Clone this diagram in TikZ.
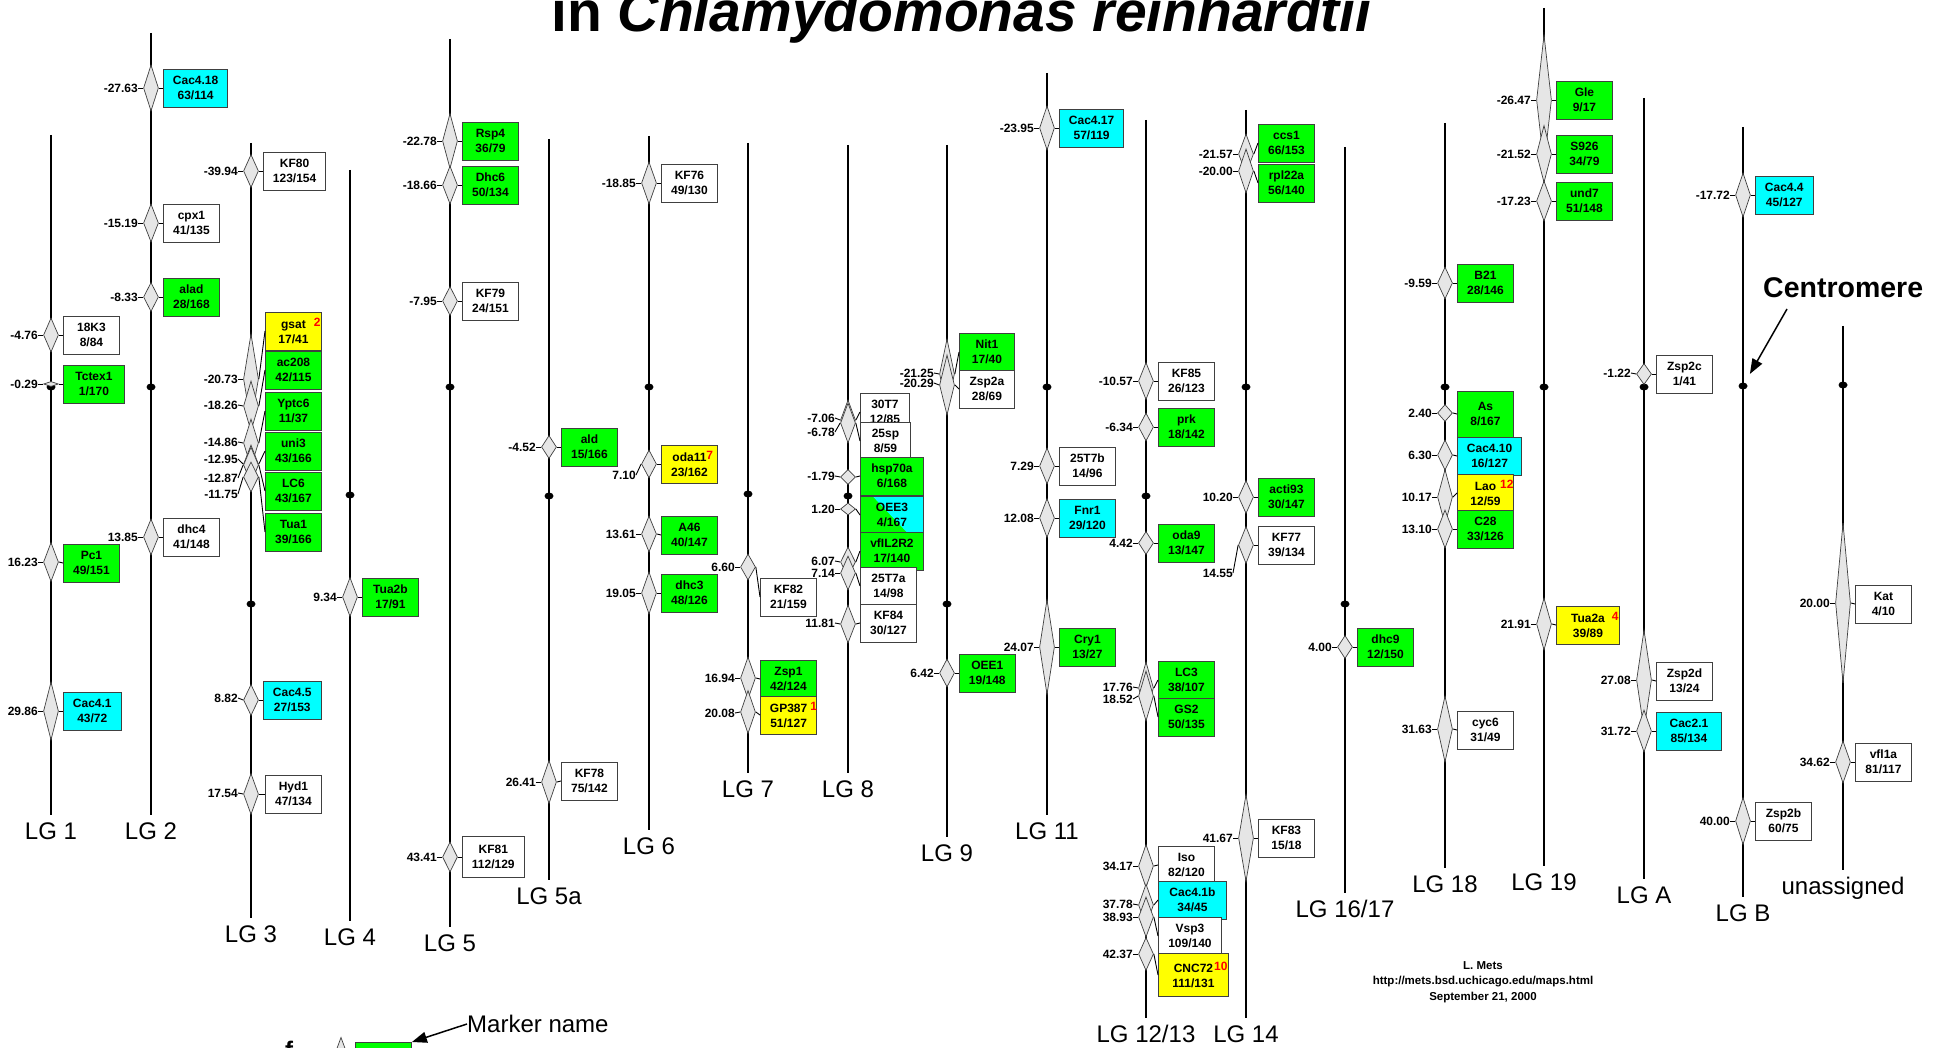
\documentclass[tikz,border=0pt]{standalone}
\usepackage{fontspec}
\setmainfont{Liberation Sans}
\usetikzlibrary{positioning, arrows.meta, shapes.geometric}
\definecolor{mkgreen}{HTML}{00FF00}
\definecolor{mkcyan}{HTML}{00FFFF}
\definecolor{mkyellow}{HTML}{FFFF00}
\definecolor{diafill}{HTML}{E6E6E6}
\definecolor{edge}{HTML}{404040}
\newcommand{\mkfont}{\fontsize{12}{15.5}\selectfont\bfseries}
\newcommand{\rednote}[2]{\rlap{\hspace{#1pt}\raisebox{2pt}{\textcolor{red}{#2}}}}
% linkage group: name, x, top, bottom, centromere, label
\newcommand{\lgline}[6]{%
  \draw[chrom] (#2,#3) coordinate (#1t) -- (#2,#4) coordinate (#1e);
  \node[cdot] (#1c) at (#2,#5) {};
  \node[lglab] (#1n) at (#2,#4+24) {#6};
}
% marker: name, x, y, spread, distance, distance y, box style, box y, box text
\newcommand{\mrk}[9]{%
  \node[dia, minimum height=#4pt] (#1d) at (#2,#3) {};
  \node[cmlab] (#1l) at (#2-13,#6) {#5};
  \node[#7] (#1b) at (#2+12,#8) {#9};
  \draw[tick] (#1l.east) -- (#1d.west);
  \draw[tick] (#1d.east) -- (#1b.west);
}
\tikzset{
  chrom/.style={line width=1.8pt, draw=black},
  cdot/.style={ellipse, fill=black, inner sep=0pt, minimum width=9pt, minimum height=7pt},
  dia/.style={diamond, draw=edge, fill=diafill, line width=0.7pt, inner sep=0pt, minimum width=15pt},
  cmlab/.style={font=\mkfont, inner sep=0pt, anchor=east},
  tick/.style={draw=black, line width=0.9pt},
  mbox/.style={draw=edge, line width=0.9pt, align=center, font=\mkfont, minimum width=56pt,
               minimum height=38pt, inner xsep=9.5pt, inner ysep=0pt, anchor=west},
  wbox/.style={mbox, fill=white},
  gbox/.style={mbox, fill=mkgreen},
  cbox/.style={mbox, fill=mkcyan},
  ybox/.style={mbox, fill=mkyellow},
  sbox/.style={mbox, fill=mkgreen, path picture={
      \fill[mkcyan] ([xshift=12pt]path picture bounding box.north west) -- (path picture bounding box.north east)
        -- (path picture bounding box.south east) -- ([xshift=-15pt]path picture bounding box.south east) -- cycle;}},
  lglab/.style={font=\fontsize{24}{24}\selectfont, inner sep=0pt, anchor=base},
  pointer/.style={-{Triangle[length=15pt, width=11pt]}, line width=1.5pt},
}
\begin{document}
\begin{tikzpicture}[x=1pt, y=-1pt]
  \useasboundingbox (0,0) rectangle (1944,1048);
  \fill[white] (0,0) rectangle (1944,1048);
  \node[font=\fontsize{57}{60}\selectfont\bfseries, anchor=base, inner sep=0pt] (title) at (962,32)
    {in \textit{Chlamydomonas reinhardtii}};

  \lgline{lgi}{51}{135}{815}{387}{LG 1}
  \lgline{lgii}{151}{33}{815}{387}{LG 2}
  \lgline{lgiii}{251}{143}{918}{604}{LG 3}
  \lgline{lgiv}{350}{170}{921}{495}{LG 4}
  \lgline{lgv}{450}{39}{927}{387}{LG 5}
  \lgline{lgva}{549}{139}{880}{496}{LG 5a}
  \lgline{lgvi}{649}{136}{830}{387}{LG 6}
  \lgline{lgvii}{748}{143}{773}{494}{LG 7}
  \lgline{lgviii}{848}{145}{773}{496}{LG 8}
  \lgline{lgix}{947}{145}{837}{604}{LG 9}
  \lgline{lgxi}{1047}{73}{815}{387}{LG 11}
  \lgline{lgxii}{1146}{120}{1018}{496}{LG 12/13}
  \lgline{lgxiv}{1246}{110}{1018}{387}{LG 14}
  \lgline{lgxvi}{1345}{147}{893}{604}{LG 16/17}
  \lgline{lgxviii}{1445}{123}{868}{387}{LG 18}
  \lgline{lgxix}{1544}{8}{866}{387}{LG 19}
  \lgline{lgA}{1644}{98}{879}{387}{LG A}
  \lgline{lgB}{1743}{127}{897}{386}{LG B}
  \lgline{lgU}{1843}{326}{870}{385}{unassigned}

  % LG 1
  \mrk{kxviii}{51}{335}{34}{-4.76}{335}{wbox}{335}{18K3\\8/84}
  \mrk{tctex}{51}{384}{5}{-0.29}{384}{gbox, minimum width=61pt}{384}{Tctex1\\1/170}
  \mrk{pci}{51}{562}{39}{16.23}{562}{gbox}{563}{Pc1\\49/151}
  \mrk{cacia}{51}{711}{58}{29.86}{711}{cbox}{711}{Cac4.1\\43/72}
  % LG 2
  \mrk{cacxviii}{151}{88}{46}{-27.63}{88}{cbox}{88}{Cac4.18\\63/114}
  \mrk{cpx}{151}{223}{38}{-15.19}{223}{wbox}{223}{cpx1\\41/135}
  \mrk{alad}{151}{297}{29}{-8.33}{297}{gbox}{297}{alad\\28/168}
  \mrk{dhciv}{151}{537}{36}{13.85}{537}{wbox}{537}{dhc4\\41/148}
  % LG 3
  \mrk{kflxxx}{251}{171}{33}{-39.94}{171}{wbox}{171}{KF80\\123/154}
  \mrk{gsat}{251}{379}{90}{-20.73}{379}{ybox, xshift=2pt}{331}{gsat\rednote{8}{2}\\17/41}
  \mrk{acc}{251}{406}{50}{-18.26}{405}{gbox, xshift=2pt}{370}{ac208\\42/115}
  \mrk{yptc}{251}{443}{48}{-14.86}{442}{gbox, xshift=2pt}{411}{Yptc6\\11/37}
  \mrk{uni}{251}{464}{38}{-12.95}{459}{gbox, xshift=2pt}{451}{uni3\\43/166}
  \mrk{lcvi}{251}{465}{36}{-12.87}{478}{gbox, xshift=2pt}{491}{LC6\\43/167}
  \mrk{tua}{251}{477}{30}{-11.75}{494}{gbox, xshift=2pt}{532}{Tua1\\39/166}
  \mrk{cacv}{251}{700}{31}{8.82}{698}{cbox}{700}{Cac4.5\\27/153}
  \mrk{hyd}{251}{794}{41}{17.54}{793}{wbox, xshift=2pt}{794}{Hyd1\\47/134}
  % LG 4
  \mrk{tuab}{350}{597}{39}{9.34}{597}{gbox}{597}{Tua2b\\17/91}
  % LG 5
  \mrk{rsp}{450}{141}{55}{-22.78}{141}{gbox}{141}{Rsp4\\36/79}
  \mrk{dhcvi}{450}{185}{38}{-18.66}{185}{gbox}{185}{Dhc6\\50/134}
  \mrk{kflxxix}{450}{301}{29}{-7.95}{301}{wbox}{301}{KF79\\24/151}
  \mrk{kflxxxi}{450}{857}{30}{43.41}{857}{wbox, minimum height=41pt}{857}{KF81\\112/129}
  % LG 5a
  \mrk{ald}{549}{447}{23}{-4.52}{447}{gbox}{447}{ald\\15/166}
  \mrk{kflxxviii}{549}{782}{43}{26.41}{782}{wbox}{781}{KF78\\75/142}
  % LG 6
  \mrk{kflxxvi}{649}{183}{42}{-18.85}{183}{wbox}{183}{KF76\\49/130}
  \mrk{oda}{649}{464}{28}{7.10}{475}{ybox}{464}{oda11\rednote{0}{7}\\23/162}
  \mrk{aforty}{649}{534}{36}{13.61}{534}{gbox}{535}{A46\\40/147}
  \mrk{dhciii}{649}{593}{42}{19.05}{593}{gbox}{593}{dhc3\\48/126}
  % LG 7
  \mrk{kflxxxii}{748}{567}{26}{6.60}{567}{wbox}{597}{KF82\\21/159}
  \mrk{zspi}{748}{678}{42}{16.94}{678}{gbox}{679}{Zsp1\\42/124}
  \mrk{gp}{748}{712}{43}{20.08}{713}{ybox}{715}{GP387\rednote{3}{1}\\51/127}
  % LG 8
  \mrk{ttvii}{848}{420}{40}{-7.06}{418}{wbox, minimum width=49pt}{412}{30T7\\12/85}
  \mrk{tfsp}{848}{423}{40}{-6.78}{432}{wbox, minimum width=50pt}{441}{25sp\\8/59}
  \mrk{hsp}{848}{477}{15}{-1.79}{476}{gbox, minimum width=63pt}{476}{hsp70a\\6/168}
  \mrk{oeeiii}{848}{509}{12}{1.20}{509}{sbox, minimum width=63pt}{515}{OEE3\\4/167}
  \mrk{vfil}{848}{562}{30}{6.07}{561}{gbox, minimum width=63pt}{551}{vfIL2R2\\17/140}
  \mrk{tftva}{848}{573}{34}{7.14}{573}{wbox}{586}{25T7a\\14/98}
  \mrk{kflxxxiv}{848}{624}{38}{11.81}{623}{wbox}{623}{KF84\\30/127}
  % LG 9
  \mrk{nit}{947}{374}{70}{-21.25}{373}{gbox, minimum width=55pt}{352}{Nit1\\17/40}
  \mrk{zspiia}{947}{385}{60}{-20.29}{383}{wbox, minimum width=55pt}{389}{Zsp2a\\28/69}
  \mrk{oeei}{947}{673}{28}{6.42}{673}{gbox, minimum width=55pt}{673}{OEE1\\19/148}
  % LG 11
  \mrk{cacxvii}{1047}{128}{44}{-23.95}{128}{cbox}{128}{Cac4.17\\57/119}
  \mrk{tftvb}{1047}{466}{36}{7.29}{466}{wbox}{466}{25T7b\\14/96}
  \mrk{fnr}{1047}{518}{39}{12.08}{518}{cbox}{518}{Fnr1\\29/120}
  \mrk{cry}{1047}{647}{95}{24.07}{647}{gbox}{647}{Cry1\\13/27}
  % LG 12/13
  \mrk{kflxxxv}{1146}{381}{37}{-10.57}{381}{wbox}{381}{KF85\\26/123}
  \mrk{prk}{1146}{427}{28}{-6.34}{427}{gbox}{427}{prk\\18/142}
  \mrk{odaix}{1146}{543}{23}{4.42}{543}{gbox}{543}{oda9\\13/147}
  \mrk{lciii}{1146}{688}{52}{17.76}{687}{gbox}{680}{LC3\\38/107}
  \mrk{gsii}{1146}{696}{50}{18.52}{699}{gbox}{717}{GS2\\50/135}
  \mrk{iso}{1146}{866}{43}{34.17}{866}{wbox}{865}{Iso\\82/120}
  \mrk{cacib}{1146}{905}{42}{37.78}{904}{cbox, minimum width=68pt}{900}{Cac4.1b\\34/45}
  \mrk{vsp}{1146}{917}{40}{38.93}{917}{wbox, minimum width=63pt}{936}{Vsp3\\109/140}
  \mrk{cnc}{1146}{954}{33}{42.37}{954}{ybox, minimum width=70pt, minimum height=43pt}{975}{CNC72\rednote{1}{10}\\111/131}
  % LG 14
  \mrk{ccs}{1246}{154}{40}{-21.57}{154}{gbox}{143}{ccs1\\66/153}
  \mrk{rpl}{1246}{171}{44}{-20.00}{171}{gbox}{183}{rpl22a\\56/140}
  \mrk{acti}{1246}{497}{33}{10.20}{497}{gbox}{497}{acti93\\30/147}
  \mrk{kflxxvii}{1246}{545}{37}{14.55}{573}{wbox}{545}{KF77\\39/134}
  \mrk{kflxxxiii}{1246}{838}{87}{41.67}{838}{wbox}{838}{KF83\\15/18}
  % LG 16/17
  \mrk{dhcix}{1345}{647}{23}{4.00}{647}{gbox}{647}{dhc9\\12/150}
  % LG 18
  \mrk{bxxi}{1445}{283}{32}{-9.59}{283}{gbox}{283}{B21\\28/146}
  \mrk{as}{1445}{413}{17}{2.40}{413}{gbox, minimum height=46pt}{414}{As\\8/167}
  \mrk{cacx}{1445}{455}{30}{6.30}{455}{cbox}{456}{Cac4.10\\16/127}
  \mrk{lao}{1445}{497}{55}{10.17}{497}{ybox}{493}{Lao\rednote{4}{12}\\12/59}
  \mrk{cxxviii}{1445}{529}{38}{13.10}{529}{gbox}{529}{C28\\33/126}
  \mrk{cyc}{1445}{729}{66}{31.63}{729}{wbox}{730}{cyc6\\31/49}
  % LG 19
  \mrk{gle}{1544}{100}{130}{-26.47}{100}{gbox}{100}{Gle\\9/17}
  \mrk{sixxvi}{1544}{154}{57}{-21.52}{154}{gbox}{154}{S926\\34/79}
  \mrk{und}{1544}{201}{40}{-17.23}{201}{gbox}{201}{und7\\51/148}
  \mrk{tuaa}{1544}{624}{52}{21.91}{624}{ybox, minimum width=63pt}{625}{Tua2a\rednote{7}{4}\\39/89}
  % LG A
  \mrk{zspiic}{1644}{374}{21}{-1.22}{373}{wbox}{374}{Zsp2c\\1/41}
  \mrk{zspiid}{1644}{680}{100}{27.08}{680}{wbox}{681}{Zsp2d\\13/24}
  \mrk{caci}{1644}{731}{42}{31.72}{731}{cbox, minimum width=65pt}{731}{Cac2.1\\85/134}
  % LG B
  \mrk{caciv}{1743}{195}{44}{-17.72}{195}{cbox}{195}{Cac4.4\\45/127}
  \mrk{zspiib}{1743}{821}{47}{40.00}{821}{wbox}{821}{Zsp2b\\60/75}
  % unassigned
  \mrk{kat}{1843}{603}{160}{20.00}{603}{wbox}{604}{Kat\\4/10}
  \mrk{vfl}{1843}{762}{42}{34.62}{762}{wbox}{762}{vfl1a\\81/117}

  \node[font=\fontsize{28.5}{30}\selectfont\bfseries, anchor=base west, inner sep=0pt] (cen) at (1763,298) {Centromere};
  \draw[pointer, shorten >=10pt] ([xshift=24pt, yshift=-11pt]cen.base west) -- (lgBc);

  \node[font=\fontsize{11.5}{15.5}\selectfont\bfseries, align=center, inner sep=0pt] (credit) at (1483,982)
    {L. Mets\\http://mets.bsd.uchicago.edu/maps.html\\September 21, 2000};

  \node[font=\fontsize{24}{24}\selectfont\bfseries, anchor=base, inner sep=0pt] (legf) at (289,1058) {f};
  \node[dia, minimum height=40pt, anchor=north] (legdia) at (341,1037) {};
  \node[gbox, anchor=north west] (legbox) at (355,1042) {};
  \node[font=\fontsize{24}{24}\selectfont, anchor=west, inner sep=0pt] (legname) at (467,1024) {Marker name};
  \draw[pointer] (legname.west) -- (legbox.north east);
\end{tikzpicture}
\end{document}
